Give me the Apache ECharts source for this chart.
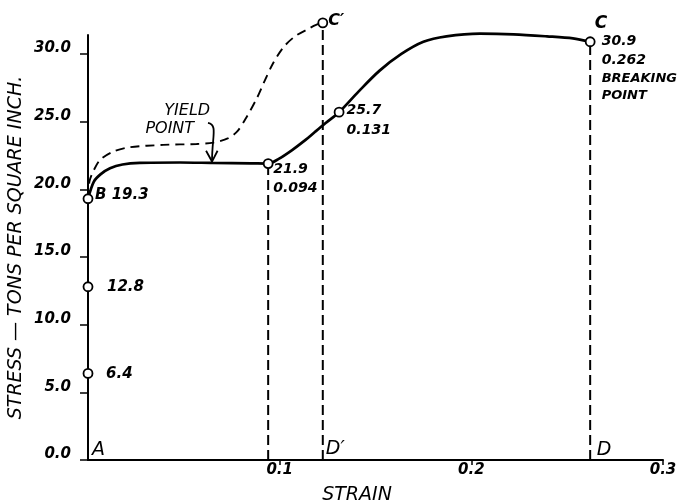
<!DOCTYPE html>
<html><head><meta charset="utf-8">
<script src="https://cdn.jsdelivr.net/npm/echarts@6/dist/echarts.min.js"></script>
<style>html,body{margin:0;padding:0;background:#fff}#c{width:683px;height:503px}</style>
</head><body><div id="c"></div>
<script>
// ---- data ----
const yTicks = [0, 5, 10, 15, 20, 25, 30];
const xTicks = [0.1, 0.2, 0.3];

const solidStrain = [0, 0.003, 0.0065, 0.0115, 0.018, 0.027, 0.048, 0.065, 0.085, 0.094, 0.0995, 0.1065, 0.1135, 0.1185, 0.124, 0.131, 0.141, 0.152, 0.1635, 0.175, 0.187, 0.2045, 0.222, 0.2395, 0.253, 0.262];
const solidStress = [19.3, 20.55, 21.1, 21.55, 21.83, 21.95, 21.98, 21.95, 21.92, 21.9, 22.25, 22.9, 23.65, 24.25, 24.9, 25.7, 27.2, 28.75, 30.0, 30.9, 31.3, 31.5, 31.45, 31.3, 31.15, 30.9];

const dashStrain = [0, 0.0008, 0.003, 0.0063, 0.0132, 0.0219, 0.0393, 0.0567, 0.0654, 0.0732, 0.078, 0.083, 0.088, 0.0915, 0.0965, 0.102, 0.108, 0.1149, 0.119, 0.1225];
const dashStress = [19.3, 20.6, 21.4, 22.17, 22.79, 23.11, 23.28, 23.35, 23.45, 23.78, 24.3, 25.4, 26.7, 27.8, 29.3, 30.5, 31.3, 31.85, 32.15, 32.3];

const pointStrain = [0, 0, 0, 0.094, 0.131, 0.262, 0.1225];
const pointStress = [19.3, 12.8, 6.4, 21.9, 25.7, 30.9, 32.3];

const dropStrain = [0.094, 0.1225, 0.262];
const dropStress = [21.9, 32.3, 30.9];

const letterText = ['A', 'D′', 'D', 'C', 'YIELD', 'POINT'];
const letterStrain = [0, 0.1225, 0.262, 0.262, 0.0523, 0.0437];
const letterStress = [0, 0, 0, 30.9, 25.81, 24.53];

// yield-point arrow (data coordinates): start, ctrl1, ctrl2, end, head leg 1, head leg 2
const arrowStrain = [0.0626, 0.0678, 0.0647, 0.0647, 0.0616, 0.0676];
const arrowStress = [24.9, 24.75, 23.94, 22.05, 22.85, 22.85];

// ---- styles ----
const FF = "'DejaVu Sans', sans-serif";
const INK = '#000';
const numStyle = { fontFamily: FF, fontStyle: 'italic', fontWeight: 'bold', color: INK, textBorderWidth: 0, textBorderColor: 'transparent', opacity: 1 };

const pointLabelLayout = [
  { offset: [7, -4], fontSize: 15 },
  { offset: [19, 0], fontSize: 15 },
  { offset: [18, 0.6], fontSize: 15 },
  { offset: [5, 15], fontSize: 14, lineHeight: 19 },
  { offset: [7.5, 8], fontSize: 14, lineHeight: 20 },
  { offset: [11.5, 26] },
  { offset: [5.5, -2], fontSize: 16 }
];
const letterLayout = [
  { offset: [4, -9.5], fontSize: 19, fontWeight: 'normal', align: 'left' },
  { offset: [3, -10.5], fontSize: 19, fontWeight: 'normal', align: 'left' },
  { offset: [6.5, -10], fontSize: 19, fontWeight: 'normal', align: 'left' },
  { offset: [4.5, -18], fontSize: 17, fontWeight: 'bold', align: 'left' },
  { offset: [-1, 0], fontSize: 16, fontWeight: 'normal', align: 'center' },
  { offset: [-2, 0.5], fontSize: 16, fontWeight: 'normal', align: 'center' }
];

function pointLabel(i) {
  const x = pointStrain[i], y = pointStress[i];
  if (i === 0) return 'B ' + y.toFixed(1);
  if (i === 1 || i === 2) return y.toFixed(1);
  if (i === 3 || i === 4) return y.toFixed(1) + '\n' + x.toFixed(3);
  if (i === 5) return '{n|' + y.toFixed(1) + '}\n{n|' + x.toFixed(3) + '}\n{w|BREAKING}\n{w|POINT}';
  return 'C′';
}

const chart = echarts.init(document.getElementById('c'), null, { renderer: 'canvas' });

const series = [
  {
    type: 'line', name: 'solid', smooth: 0.3, symbol: 'none', clip: false, z: 3,
    data: solidStrain.map((x, i) => [x, solidStress[i]]),
    lineStyle: { color: INK, width: 2.7 }
  },
  {
    type: 'line', name: 'dashed', smooth: 0.3, symbol: 'none', clip: false, z: 3,
    data: dashStrain.map((x, i) => [x, dashStress[i]]),
    lineStyle: { color: INK, width: 1.9, type: [9, 6] }
  }
];
dropStrain.forEach((x, i) => {
  series.push({
    type: 'line', symbol: 'none', clip: false, z: 2,
    data: [[x, 0], [x, dropStress[i]]],
    lineStyle: { color: INK, width: 2, type: [10, 5] }
  });
});
series.push({
  type: 'scatter', name: 'points', clip: false, z: 5,
  symbol: 'circle', symbolSize: 9,
  itemStyle: { color: '#fff', borderColor: INK, borderWidth: 1.8, opacity: 1 },
  data: pointStrain.map((x, i) => ({
    value: [x, pointStress[i]],
    label: Object.assign({
      show: true, position: 'inside', align: 'left', verticalAlign: 'middle',
      formatter: () => pointLabel(i),
      rich: {
        n: Object.assign({ fontSize: 14, lineHeight: 19 }, numStyle),
        w: Object.assign({ fontSize: 13, lineHeight: 17 }, numStyle)
      }
    }, numStyle, pointLabelLayout[i])
  }))
});
series.push({
  type: 'scatter', name: 'letters', clip: false, z: 6,
  symbolSize: 0, silent: true,
  data: letterStrain.map((x, i) => ({
    value: [x, letterStress[i]],
    label: Object.assign({
      show: true, position: 'inside', verticalAlign: 'middle',
      formatter: letterText[i]
    }, numStyle, letterLayout[i])
  }))
});

chart.setOption({
  animation: false,
  backgroundColor: '#fff',
  grid: { left: 88, right: 20, top: 35, bottom: 43, containLabel: false, outerBoundsMode: 'none' },
  xAxis: {
    type: 'value', min: 0, max: 0.3, interval: 0.1,
    name: 'STRAIN', nameLocation: 'middle', nameGap: 26, nameMoveOverlap: false,
    nameTextStyle: { fontFamily: FF, fontStyle: 'italic', fontSize: 19, color: INK, padding: [0, 37, 0, 0] },
    axisLine: { show: true, onZero: false, lineStyle: { color: INK, width: 2 } },
    axisTick: { show: true, length: 5, customValues: xTicks, lineStyle: { color: INK, width: 1.5 } },
    axisLabel: {
      customValues: xTicks, margin: 3,
      formatter: v => v.toFixed(1),
      fontFamily: FF, fontStyle: 'italic', fontWeight: 'bold', fontSize: 15, color: INK
    },
    splitLine: { show: false }
  },
  yAxis: {
    type: 'value', min: 0, max: 31.4,
    name: 'STRESS — TONS PER SQUARE INCH.', nameLocation: 'middle', nameRotate: 90, nameGap: 62, nameMoveOverlap: false,
    nameTextStyle: { fontFamily: FF, fontStyle: 'italic', fontSize: 19, color: INK },
    axisLine: { show: true, onZero: false, lineStyle: { color: INK, width: 2 } },
    axisTick: { show: true, length: 8, customValues: yTicks, lineStyle: { color: INK, width: 1.5 } },
    axisLabel: {
      customValues: yTicks, margin: 17,
      formatter: v => '{t|' + v.toFixed(1) + '}',
      rich: { t: { fontFamily: FF, fontStyle: 'italic', fontWeight: 'bold', fontSize: 15, color: INK, padding: [0, 0, 11, 0] } },
      fontFamily: FF, fontStyle: 'italic', fontWeight: 'bold', fontSize: 15, color: INK
    },
    splitLine: { show: false }
  },
  series: series
});

// yield-point arrow, placed through the chart's own coordinate system
const P = arrowStrain.map((x, i) => chart.convertToPixel({ gridIndex: 0 }, [x, arrowStress[i]]));
chart.setOption({
  graphic: [
    {
      type: 'bezierCurve', z: 10,
      shape: { x1: P[0][0], y1: P[0][1], cpx1: P[1][0], cpy1: P[1][1], cpx2: P[2][0], cpy2: P[2][1], x2: P[3][0], y2: P[3][1] },
      style: { stroke: INK, lineWidth: 1.8, fill: null }
    },
    {
      type: 'polyline', z: 10,
      shape: { points: [P[4], P[3], P[5]] },
      style: { stroke: INK, lineWidth: 1.8, fill: null }
    }
  ]
});
</script>
</body></html>
